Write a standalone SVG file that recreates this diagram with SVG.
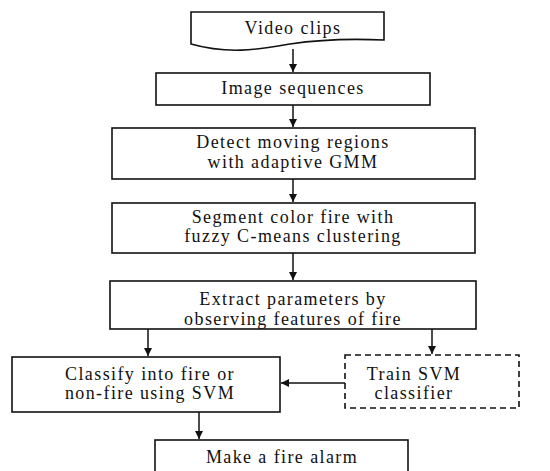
<svg xmlns="http://www.w3.org/2000/svg" width="550" height="471" viewBox="0 0 550 471">
<style>
.box{fill:#fff;stroke:#111;stroke-width:1.6}
.dash{fill:#fff;stroke:#111;stroke-width:1.6;stroke-dasharray:6,4}
.t{font-family:"Liberation Serif","Times New Roman",serif;font-size:18px;fill:#111;text-anchor:middle;letter-spacing:1.4px}
.c{stroke:#111;stroke-width:1.5;fill:none;marker-end:url(#ah)}
</style>
<defs>
<marker id="ah" viewBox="0 0 10 10" refX="10" refY="5" markerWidth="5.5" markerHeight="5.5" markerUnits="strokeWidth" orient="auto">
<path d="M0,0 L10,5 L0,10 z" fill="#111"/>
</marker>
</defs>
<rect width="550" height="471" fill="#fff"/>
<g id="connectors">
<line class="c" x1="293" y1="49" x2="293" y2="72"/>
<line class="c" x1="293" y1="105" x2="293" y2="127"/>
<line class="c" x1="293" y1="179" x2="293" y2="202"/>
<line class="c" x1="293" y1="253" x2="293" y2="280"/>
<line class="c" x1="148" y1="329" x2="148" y2="356"/>
<line class="c" x1="432" y1="329" x2="432" y2="354"/>
<line class="c" x1="345" y1="383" x2="281" y2="383"/>
<line class="c" x1="199" y1="412" x2="199" y2="439"/>
</g>
<g id="video-clips">
<path class="box" d="M191,12 L384,12 L384,40 C340,38 310,41 290,44 C260,49 230,55 191,44 Z"/>
<text class="t" x="293" y="34">Video clips</text>
</g>
<g id="image-sequences">
<rect class="box" x="156" y="73" width="274" height="32"/>
<text class="t" x="293" y="94">Image sequences</text>
</g>
<g id="detect">
<rect class="box" x="112" y="128" width="363" height="51"/>
<text class="t" x="293" y="148">Detect moving regions</text>
<text class="t" x="293" y="168">with adaptive GMM</text>
</g>
<g id="segment">
<rect class="box" x="112" y="203" width="363" height="50"/>
<text class="t" x="293" y="223">Segment color fire with</text>
<text class="t" x="293" y="242">fuzzy C-means clustering</text>
</g>
<g id="extract">
<rect class="box" x="110" y="281" width="366" height="48"/>
<text class="t" x="293" y="305">Extract parameters by</text>
<text class="t" x="293" y="325">observing features of fire</text>
</g>
<g id="classify">
<rect class="box" x="12" y="357" width="268" height="55"/>
<text class="t" x="150" y="380">Classify into fire or</text>
<text class="t" x="150" y="399">non-fire using SVM</text>
</g>
<g id="train">
<rect class="dash" x="345" y="355" width="174" height="53"/>
<text class="t" x="414" y="380">Train SVM</text>
<text class="t" x="414" y="399">classifier</text>
</g>
<g id="alarm">
<rect class="box" x="155" y="440" width="253" height="40"/>
<text class="t" x="282" y="463">Make a fire alarm</text>
</g>
</svg>
